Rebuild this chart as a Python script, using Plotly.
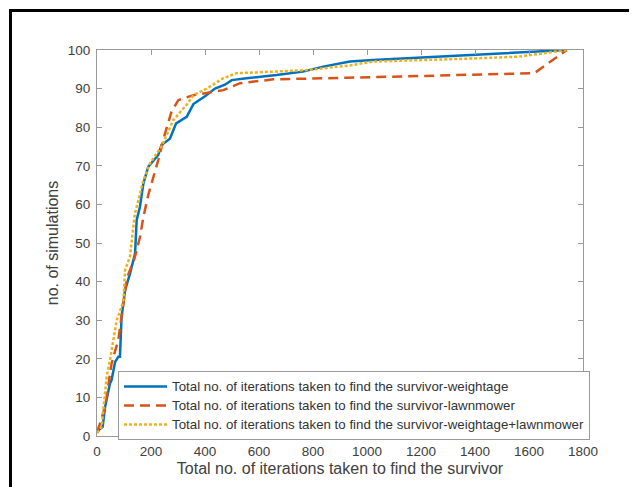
import plotly.graph_objects as go

# Series: weightage (blue, solid)
weight_x = [0, 5, 21, 30, 48, 54, 67, 79, 85, 88, 91, 104, 122, 141, 147, 159, 172, 190, 227, 239, 270, 293, 332, 357, 400, 437, 474, 499, 554, 665, 763, 838, 937, 1022, 1393, 1591, 1740]
weight_y = [1, 1.5, 2.4, 7.6, 13.6, 14.5, 19.2, 20.5, 20.5, 26.6, 30.9, 37.8, 42, 47.3, 56, 59.4, 65.5, 69.8, 72.8, 75.4, 77, 81, 82.7, 86, 88, 90, 91, 92.2, 92.7, 93.5, 94.4, 95.7, 97, 97.4, 98.7, 99.3, 100]

# Series: lawnmower (orange, dashed)
lawn_x = [0, 10, 30, 54, 79, 111, 139, 159, 172, 190, 227, 252, 276, 301, 357, 406, 468, 530, 653, 925, 1567, 1620, 1740]
lawn_y = [1, 3, 7.6, 18.8, 24.9, 41, 46, 51.5, 56.8, 62.5, 71.5, 78.4, 84, 87, 88.3, 88.8, 89.6, 91.4, 92.4, 92.8, 94, 94, 100]

# Series: weightage+lawnmower (yellow, dotted)
combo_x = [0, 4, 17, 30, 36, 48, 60, 73, 91, 98, 104, 122, 140, 172, 196, 239, 283, 332, 357, 406, 468, 517, 591, 777, 937, 1022, 1393, 1567, 1740]
combo_y = [1, 1, 2.4, 10.2, 15.4, 19.7, 24.9, 30, 33.5, 35.2, 43, 46.4, 57.5, 66.3, 70.6, 75, 81.9, 85.8, 88.3, 90, 92.7, 94, 94.2, 94.8, 96, 97, 97.8, 98.3, 100]

x_ticks = [0, 200, 400, 600, 800, 1000, 1200, 1400, 1600, 1800]
y_ticks = [0, 10, 20, 30, 40, 50, 60, 70, 80, 90, 100]

names = [
    "Total no. of iterations taken to find the survivor-weightage",
    "Total no. of iterations taken to find the survivor-lawnmower",
    "Total no. of iterations taken to find the survivor-weightage+lawnmower",
]

FONT = "Liberation Sans, Arial, sans-serif"

def label(s):
    return '<span style="font-size:13.3px">' + s + '</span>'

fig = go.Figure()
fig.add_trace(go.Scatter(x=weight_x, y=weight_y, mode="lines", name=label(names[0]),
                         line=dict(color="#0072BD", width=2.5)))
fig.add_trace(go.Scatter(x=lawn_x, y=lawn_y, mode="lines", name=label(names[1]),
                         line=dict(color="#D95319", width=2.5, dash="10px,6px")))
fig.add_trace(go.Scatter(x=combo_x, y=combo_y, mode="lines", name=label(names[2]),
                         line=dict(color="#EDB120", width=2.5, dash="3px,2px")))

OFF = 8  # page body margin
L, R, T, B = 97 - OFF, 583 - OFF, 50 - OFF, 436 - OFF
W, H = 637 - OFF, 487 - OFF

def px_x(p):
    return (p - OFF - L) / (R - L)

def px_y(p):
    return (B - (p - OFF)) / (B - T)

axis_common = dict(
    showgrid=False, zeroline=False, showline=True, linecolor="#9a9a9a", linewidth=1,
    mirror="ticks", ticks="inside", ticklen=5, tickcolor="#9a9a9a",
    tickfont=dict(family=FONT, size=13.5, color="#404040"),
)

fig.update_layout(
    width=W, height=H,
    margin=dict(l=L, r=W - R, t=T, b=H - B),
    paper_bgcolor="white", plot_bgcolor="white",
    font=dict(family=FONT, color="#404040"),
    xaxis=dict(range=[0, 1800], tickvals=x_ticks, ticklabelstandoff=3,
               title=dict(text="Total no. of iterations taken to find the survivor",
                          font=dict(family=FONT, size=16, color="#404040"), standoff=4),
               **axis_common),
    yaxis=dict(range=[0, 100], tickvals=y_ticks, ticklabelstandoff=3,
               title=dict(text="no. of simulations",
                          font=dict(family=FONT, size=16, color="#404040"), standoff=5),
               **axis_common),
    showlegend=True,
    legend=dict(x=px_x(118), y=px_y(371), xanchor="left", yanchor="top",
                bgcolor="white", bordercolor="#9a9a9a", borderwidth=1,
                font=dict(family=FONT, size=12, color="#333333"),
                itemwidth=43, tracegroupgap=0),
    shapes=[
        dict(type="line", xref="paper", yref="paper",
             x0=px_x(10.5), x1=px_x(10.5), y0=px_y(10.5), y1=px_y(500),
             line=dict(color="black", width=3)),
        dict(type="line", xref="paper", yref="paper",
             x0=px_x(9), x1=px_x(660), y0=px_y(10.5), y1=px_y(10.5),
             line=dict(color="black", width=3)),
    ],
)

fig.write_html("out.html")
